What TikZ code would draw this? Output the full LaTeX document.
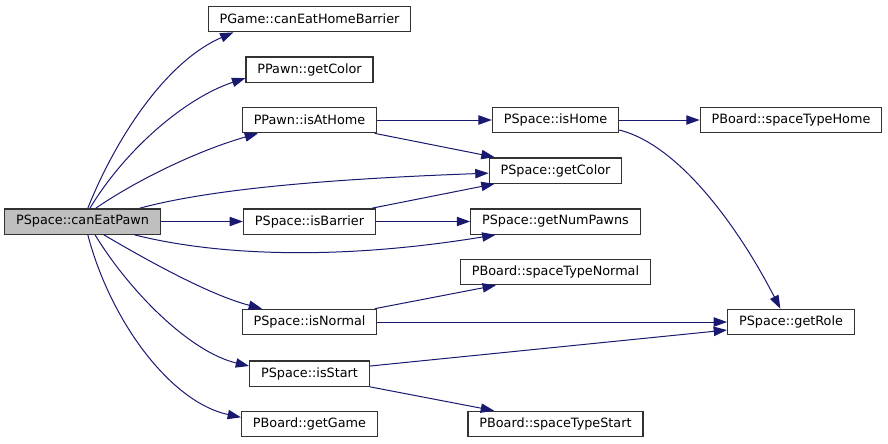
\documentclass[tikz,border=0pt]{standalone}
\usepackage{fontspec}
\setmainfont{DejaVu Sans}
\usetikzlibrary{positioning,arrows.meta}
\definecolor{callblue}{RGB}{25,25,112}
\definecolor{boxrule}{RGB}{50,50,50}
\definecolor{rootgray}{RGB}{191,191,191}
\tikzset{
  fn/.style={rectangle,draw=boxrule,line width=1pt,fill=white,minimum height=19pt,inner xsep=8.5pt,inner ysep=0pt,font=\fontsize{9.6}{11}\selectfont},
  rootfn/.style={fn,fill=rootgray},
  call/.style={-{Triangle[length=10pt,width=7pt]},draw=callblue,line width=0.75pt}
}
\begin{document}
\begin{tikzpicture}[x=0.75pt,y=-0.75pt]
  \useasboundingbox (0,0) rectangle (888,443);
  \node[rootfn] (cep) at (82.5,221.5) {PSpace::canEatPawn};
  \node[fn] (gceh) at (309.5,19) {PGame::canEatHomeBarrier};
  \node[fn] (pgc) at (309.5,69.5) {PPawn::getColor};
  \node[fn] (iah) at (309.5,120) {PPawn::isAtHome};
  \node[fn] (ibar) at (309.5,221.5) {PSpace::isBarrier};
  \node[fn] (inor) at (309.5,322) {PSpace::isNormal};
  \node[fn] (ist) at (309.5,373.5) {PSpace::isStart};
  \node[fn] (bgg) at (309.5,424) {PBoard::getGame};
  \node[fn] (ihome) at (555.5,120) {PSpace::isHome};
  \node[fn] (sgc) at (555.5,170.5) {PSpace::getColor};
  \node[fn] (gnp) at (555.5,221.5) {PSpace::getNumPawns};
  \node[fn] (stn) at (555.5,272) {PBoard::spaceTypeNormal};
  \node[fn] (sts) at (555.5,424) {PBoard::spaceTypeStart};
  \node[fn] (sth) at (791,120) {PBoard::spaceTypeHome};
  \node[fn] (grole) at (791,322) {PSpace::getRole};

  \draw[call] ([xshift=4pt]cep.north) .. controls (115,140) and (165,62) .. ([xshift=-57pt]gceh.south);
  \draw[call] ([xshift=5.6pt]cep.north) .. controls (125,150) and (185,98) .. ([yshift=-6.5pt]pgc.west);
  \draw[call] ([xshift=10pt]cep.north) .. controls (140,178) and (200,150) .. ([xshift=-38.6pt]iah.south);
  \draw[call] ([xshift=43pt]cep.north) .. controls (200,192) and (300,180) .. ([yshift=-2pt]sgc.west);
  \draw[call] (cep) -- (ibar);
  \draw[call] ([xshift=39pt]cep.south) .. controls (210,254) and (330,262) .. ([xshift=-45pt]gnp.south);
  \draw[call] ([xshift=16pt]cep.south) .. controls (150,262) and (210,295) .. ([xshift=-35.6pt]inor.north);
  \draw[call] ([xshift=9.4pt]cep.south) .. controls (130,292) and (190,352) .. ([yshift=5.6pt]ist.west);
  \draw[call] ([xshift=4pt]cep.south) .. controls (110,320) and (170,402) .. ([yshift=5pt]bgg.west);
  \draw[call] (iah) -- (ihome);
  \draw[call] ([xshift=-2pt]iah.south east) -- ([xshift=4.5pt]sgc.north west);
  \draw[call] ([xshift=-3pt]ibar.north east) -- ([xshift=4.5pt]sgc.south west);
  \draw[call] (ibar) -- (gnp);
  \draw[call] (ihome) -- (sth);
  \draw[call] ([yshift=-7.5pt]ihome.east) .. controls (680,145) and (740,230) .. ([xshift=-8pt]grole.north);
  \draw[call] ([xshift=-2pt]inor.north east) -- ([xshift=27pt]stn.south west);
  \draw[call] (inor) -- (grole);
  \draw[call] ([yshift=5.6pt]ist.east) -- ([yshift=-6pt]grole.west);
  \draw[call] (ist.south east) -- ([xshift=20pt]sts.north west);
\end{tikzpicture}
\end{document}
